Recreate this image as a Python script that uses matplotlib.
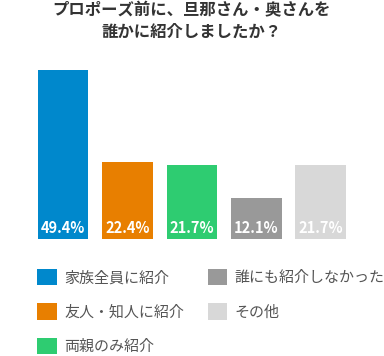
import matplotlib
matplotlib.use('Agg')
import matplotlib.pyplot as plt

plt.rcParams['font.family'] = ['Noto Sans CJK JP', 'DejaVu Sans']

title = 'プロポーズ前に、旦那さん・奥さんを\n誰かに紹介しましたか？'
categories = ['家族全員に紹介', '友人・知人に紹介', '両親のみ紹介', '誰にも紹介しなかった', 'その他']
values = [49.4, 22.4, 21.7, 12.1, 21.7]
labels = ['49.4%', '22.4%', '21.7%', '12.1%', '21.7%']
colors = ['#0088cc', '#e87f00', '#2ecc71', '#999999', '#d8d8d8']

fig = plt.figure(figsize=(3.84, 3.56), dpi=100)
ax = fig.add_axes([30.8 / 384, 117 / 356, 322.1 / 384, 171 / 356])

for i, (cat, v, c) in enumerate(zip(categories, values, colors)):
    ax.bar(i, v, width=0.787, color=c, label=cat)
    ax.annotate(labels[i], (i, 0), xytext=(0, 8), textcoords='offset points',
                ha='center', va='center', color='white', fontsize=10.5, fontweight='bold')

ax.set_xlim(-0.5, 4.5)
ax.set_ylim(0, 50)
ax.axis('off')

fig.text(0.5, 1 - 21.5 / 356, title, ha='center', va='center', fontsize=11.8,
         fontweight='bold', color='#333333', linespacing=1.25)

fig.legend(loc='upper left', bbox_to_anchor=(37 / 384, 1 - 269 / 356), ncol=2,
           frameon=False, fontsize=10.8, borderpad=0, borderaxespad=0,
           handlelength=1.3, handleheight=1.3, handletextpad=0.5,
           columnspacing=1.6, labelspacing=1.2, labelcolor='#555555')

fig.savefig('out.png', dpi=100)
